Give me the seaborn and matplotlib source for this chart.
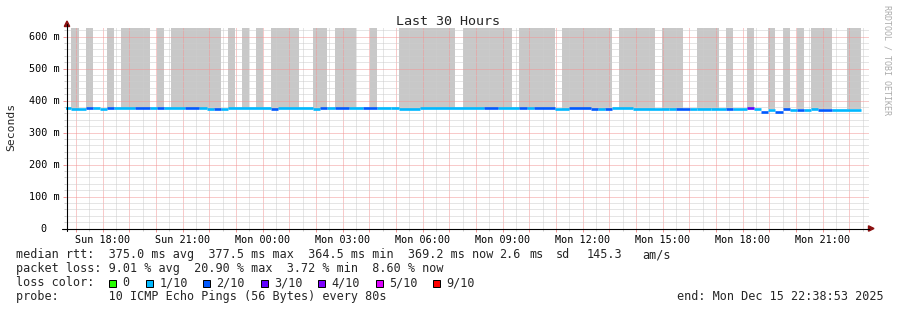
import numpy as np
import pandas as pd
import matplotlib
matplotlib.use("Agg")
import matplotlib.pyplot as plt
import matplotlib.dates as mdates
from matplotlib.lines import Line2D
from matplotlib.patches import Rectangle, Polygon
import seaborn as sns

# ---------------- data ----------------
chart_start = "2025-12-14 16:38:53"
chart_end = "2025-12-15 22:38:53"

# smoke (grey) intervals, clipped at the top of the graph
smoke_start = ["2025-12-14 16:50", "2025-12-14 17:22", "2025-12-14 18:10", "2025-12-14 18:42",
               "2025-12-14 20:02", "2025-12-14 20:34", "2025-12-14 22:42", "2025-12-14 23:14",
               "2025-12-14 23:46", "2025-12-15 00:18", "2025-12-15 01:54", "2025-12-15 02:42",
               "2025-12-15 04:02", "2025-12-15 05:06", "2025-12-15 07:30", "2025-12-15 09:38",
               "2025-12-15 11:14", "2025-12-15 13:22", "2025-12-15 14:58", "2025-12-15 16:18",
               "2025-12-15 17:22", "2025-12-15 18:10", "2025-12-15 18:58", "2025-12-15 19:30",
               "2025-12-15 20:02", "2025-12-15 20:34", "2025-12-15 21:54"]
smoke_end = ["2025-12-14 17:06", "2025-12-14 17:38", "2025-12-14 18:26", "2025-12-14 19:46",
             "2025-12-14 20:18", "2025-12-14 22:26", "2025-12-14 22:58", "2025-12-14 23:30",
             "2025-12-15 00:02", "2025-12-15 01:22", "2025-12-15 02:26", "2025-12-15 03:30",
             "2025-12-15 04:18", "2025-12-15 07:14", "2025-12-15 09:22", "2025-12-15 10:58",
             "2025-12-15 13:06", "2025-12-15 14:42", "2025-12-15 15:46", "2025-12-15 17:06",
             "2025-12-15 17:38", "2025-12-15 18:26", "2025-12-15 19:14", "2025-12-15 19:46",
             "2025-12-15 20:18", "2025-12-15 21:22", "2025-12-15 22:26"]
smoke_low_ms = 372.0
smoke_high_ms = 700.0

# median rtt segments: start time, median (ms), loss level
median_start = ["2025-12-14 16:34", "2025-12-14 16:50", "2025-12-14 17:22", "2025-12-14 17:38",
                "2025-12-14 17:54", "2025-12-14 18:10", "2025-12-14 18:26", "2025-12-14 19:14",
                "2025-12-14 19:46", "2025-12-14 20:02", "2025-12-14 20:18", "2025-12-14 21:06",
                "2025-12-14 21:38", "2025-12-14 21:54", "2025-12-14 22:10", "2025-12-14 22:26",
                "2025-12-14 22:42", "2025-12-15 00:18", "2025-12-15 00:34", "2025-12-15 01:54",
                "2025-12-15 02:10", "2025-12-15 02:26", "2025-12-15 02:42", "2025-12-15 03:14",
                "2025-12-15 03:46", "2025-12-15 04:18", "2025-12-15 04:50", "2025-12-15 05:06",
                "2025-12-15 05:54", "2025-12-15 08:18", "2025-12-15 08:50", "2025-12-15 09:38",
                "2025-12-15 09:54", "2025-12-15 10:10", "2025-12-15 10:58", "2025-12-15 11:30",
                "2025-12-15 12:18", "2025-12-15 12:34", "2025-12-15 12:50", "2025-12-15 13:06",
                "2025-12-15 13:54", "2025-12-15 15:14", "2025-12-15 15:30", "2025-12-15 16:02",
                "2025-12-15 16:18", "2025-12-15 16:50", "2025-12-15 17:22", "2025-12-15 17:38",
                "2025-12-15 18:10", "2025-12-15 18:26", "2025-12-15 18:42", "2025-12-15 18:58",
                "2025-12-15 19:14", "2025-12-15 19:30", "2025-12-15 19:46", "2025-12-15 20:02",
                "2025-12-15 20:18", "2025-12-15 20:34", "2025-12-15 20:50", "2025-12-15 21:22"]
median_last_end = "2025-12-15 22:26"
median_ms = [376, 373, 376, 376, 373, 376, 376, 376,
             376, 377, 376, 376, 376, 373, 373, 373,
             376, 374, 376, 374, 377, 376, 376, 376,
             376, 376, 377.5, 375, 376, 376, 376, 376,
             376, 376, 375, 376, 373, 375, 375, 376,
             375, 373, 375, 374, 372, 373, 373, 373,
             376, 373, 364.5, 370, 365, 372, 369, 371,
             371, 373, 369.2, 369.2]
median_loss = ["1/10", "1/10", "2/10", "1/10", "1/10", "2/10", "1/10", "2/10",
               "1/10", "2/10", "1/10", "2/10", "1/10", "1/10", "2/10", "1/10",
               "1/10", "2/10", "1/10", "1/10", "2/10", "1/10", "2/10", "1/10",
               "2/10", "1/10", "1/10", "1/10", "1/10", "2/10", "1/10", "2/10",
               "1/10", "2/10", "1/10", "2/10", "2/10", "1/10", "2/10", "1/10",
               "1/10", "1/10", "2/10", "1/10", "1/10", "1/10", "2/10", "1/10",
               "3/10", "1/10", "2/10", "1/10", "2/10", "2/10", "1/10", "2/10",
               "1/10", "1/10", "2/10", "1/10"]

loss_labels = ["0", "1/10", "2/10", "3/10", "4/10", "5/10", "9/10"]
loss_colors = ["#26ff00", "#00b8ff", "#0059ff", "#5e00ff", "#7e00ff", "#dd00ff", "#ff0000"]

y_ticks = [0.0, 0.1, 0.2, 0.3, 0.4, 0.5, 0.6]
y_tick_labels = ["0  ", "100 m", "200 m", "300 m", "400 m", "500 m", "600 m"]
x_label_times = ["2025-12-14 18:00", "2025-12-14 21:00", "2025-12-15 00:00", "2025-12-15 03:00",
                 "2025-12-15 06:00", "2025-12-15 09:00", "2025-12-15 12:00", "2025-12-15 15:00",
                 "2025-12-15 18:00", "2025-12-15 21:00"]
x_tick_labels = ["Sun 18:00", "Sun 21:00", "Mon 00:00", "Mon 03:00", "Mon 06:00", "Mon 09:00",
                 "Mon 12:00", "Mon 15:00", "Mon 18:00", "Mon 21:00"]

title = "Last 30 Hours"
y_title = "Seconds"
legend_median = "median rtt:  375.0 ms avg  377.5 ms max  364.5 ms min  369.2 ms now"
legend_sd = ["2.6", "ms", "sd", "145.3", "am/s"]
legend_loss = "packet loss: 9.01 % avg  20.90 % max  3.72 % min  8.60 % now"
legend_color_title = "loss color:"
legend_probe = "probe:       10 ICMP Echo Pings (56 Bytes) every 80s"
legend_end = "end: Mon Dec 15 22:38:53 2025"
watermark = "RRDTOOL / TOBI OETIKER"

# ---------------- style ----------------
sns.set_theme(style="white")
plt.rcParams["font.family"] = ["DejaVu Sans Mono", "DejaVu Sans"]
plt.rcParams["axes.unicode_minus"] = False

W, H = 897, 310
fig = plt.figure(figsize=(W / 100, H / 100), dpi=100, facecolor="white")


def fx(px):
    return px / W


def fy(py):
    return 1 - py / H


x0_px, x1_px = 66.0, 869.0
y0_px, y1_px = 229.0, 28.0
zero_px = 228.5
px_per_hour = 160.0 / 6.0
px_per_sec = (zero_px - 36.5) / 0.6

ax = fig.add_axes([fx(x0_px), fy(y0_px), fx(x1_px) - fx(x0_px), fy(y1_px) - fy(y0_px)])
ax.set_facecolor("white")
for s in ax.spines.values():
    s.set_visible(False)

t0 = pd.Timestamp(chart_start) - pd.Timedelta(hours=0.5 / px_per_hour)
tmax = t0 + pd.Timedelta(hours=(x1_px - x0_px) / px_per_hour)
ax.set_xlim(mdates.date2num(t0), mdates.date2num(tmax))
ylim = (-(y0_px - zero_px) / px_per_sec, (zero_px - y1_px) / px_per_sec)
ax.set_ylim(*ylim)

# smoke bars
ss = pd.to_datetime(smoke_start)
se = pd.to_datetime(smoke_end)
ax.bar(mdates.date2num(ss), (smoke_high_ms - smoke_low_ms) / 1000.0,
       width=mdates.date2num(se) - mdates.date2num(ss), bottom=smoke_low_ms / 1000.0,
       align="edge", color="#c8c8c8", linewidth=0, zorder=1)

# median line segments
ms_start = pd.to_datetime(median_start)
ms_end = list(ms_start[1:]) + [pd.Timestamp(median_last_end)]
rows = []
for i, (a, b, v, l) in enumerate(zip(ms_start, ms_end, median_ms, median_loss)):
    rows.append({"time": a, "median": v / 1000.0, "loss": l, "seg": i})
    rows.append({"time": b, "median": v / 1000.0, "loss": l, "seg": i})
df = pd.DataFrame(rows)
pal = dict(zip(loss_labels, loss_colors))
pal = {k: pal[k] for k in df["loss"].unique()}
sns.lineplot(data=df, x="time", y="median", hue="loss", units="seg", estimator=None,
             palette=pal, legend=False, ax=ax, linewidth=1.9, solid_capstyle="butt", zorder=4)
ax.set_xlim(mdates.date2num(t0), mdates.date2num(tmax))
ax.set_ylim(*ylim)
ax.set_xlabel("")
ax.set_ylabel("")

# grid / ticks
hours = pd.date_range("2025-12-14 17:00", "2025-12-15 22:00", freq="h")
half_hours = pd.date_range("2025-12-14 17:30", "2025-12-15 22:30", freq="h")
label_map = dict(zip(pd.to_datetime(x_label_times), x_tick_labels))
ax.set_xticks(mdates.date2num(hours))
ax.set_xticklabels([label_map.get(h, "") for h in hours])
ax.set_xticks(mdates.date2num(half_hours), minor=True)
ax.set_yticks(y_ticks)
ax.set_yticklabels(y_tick_labels)
ax.set_yticks([v / 100.0 for v in range(2, 63, 2) if v % 10 != 0], minor=True)

ax.set_axisbelow(False)
dot = (0, (1, 1))
major_c = "#f29696"
minor_c = "#cccccc"
for which, c in (("major", major_c), ("minor", minor_c)):
    ax.grid(which=which, color=c, linestyle=dot, linewidth=0.72, zorder=2, snap=True)
ax.tick_params(axis="both", which="major", length=2.2, width=0.72, color=major_c,
               direction="out", labelsize=7.3, labelcolor="black")
ax.tick_params(axis="both", which="minor", length=1.5, width=0.72, color=minor_c, direction="out")
ax.tick_params(axis="x", which="major", pad=1.8)
ax.tick_params(axis="y", which="major", pad=2.6)
ax.tick_params(axis="both", which="both", bottom=True, left=True)

# axis lines and arrows
fig.add_artist(Line2D([fx(62), fx(869)], [fy(228.5), fy(228.5)], color="black", lw=0.8))
fig.add_artist(Line2D([fx(66.5), fx(66.5)], [fy(231), fy(24)], color="black", lw=0.8))
fig.add_artist(Polygon([[fx(64.3), fy(26.5)], [fx(69.7), fy(26.5)], [fx(67), fy(21)]],
                       closed=True, color="#8b1010", transform=fig.transFigure))
fig.add_artist(Polygon([[fx(868.5), fy(225.8)], [fx(868.5), fy(231.2)], [fx(874), fy(228.5)]],
                       closed=True, color="#8b1010", transform=fig.transFigure))

# texts
mono = ["DejaVu Sans Mono", "DejaVu Sans"]
fig.text(fx(448), fy(25), title, ha="center", va="baseline", fontsize=9.6, family=mono)
fig.text(fx(11), fy(127), y_title, ha="center", va="center", rotation=90, fontsize=8.2, family=mono)
fig.text(fx(886.5), fy(60), watermark, ha="center", va="center", rotation=270, fontsize=6.0,
         color="#ababab", family=mono)

LS = 8.46
base = [258.3, 272.2, 286.1, 300.0]
fig.text(fx(15.5), fy(base[0]), legend_median, ha="left", va="baseline", fontsize=LS, family=mono)
for s, xp in zip(legend_sd, [499, 529, 556, 586.5, 642.5]):
    fig.text(fx(xp), fy(base[0]), s, ha="left", va="baseline", fontsize=LS, family=mono)
fig.text(fx(15.5), fy(base[1]), legend_loss, ha="left", va="baseline", fontsize=LS, family=mono)
fig.text(fx(15.5), fy(base[2]), legend_color_title, ha="left", va="baseline", fontsize=LS, family=mono)
box_x = [109, 146, 203, 261, 318, 376, 433]
for bx, lab, col in zip(box_x, loss_labels, loss_colors):
    fig.add_artist(Rectangle((fx(bx), fy(287)), 7 / W, 7.5 / H, facecolor=col, edgecolor="black",
                             lw=0.72, transform=fig.transFigure))
    fig.text(fx(bx + 13.5), fy(base[2]), lab, ha="left", va="baseline", fontsize=LS, family=mono)
fig.text(fx(15.5), fy(base[3]), legend_probe, ha="left", va="baseline", fontsize=LS, family=mono)
fig.text(fx(677), fy(base[3]), legend_end, ha="left", va="baseline", fontsize=LS, family=mono)

fig.savefig("out.png", dpi=100, facecolor="white")
